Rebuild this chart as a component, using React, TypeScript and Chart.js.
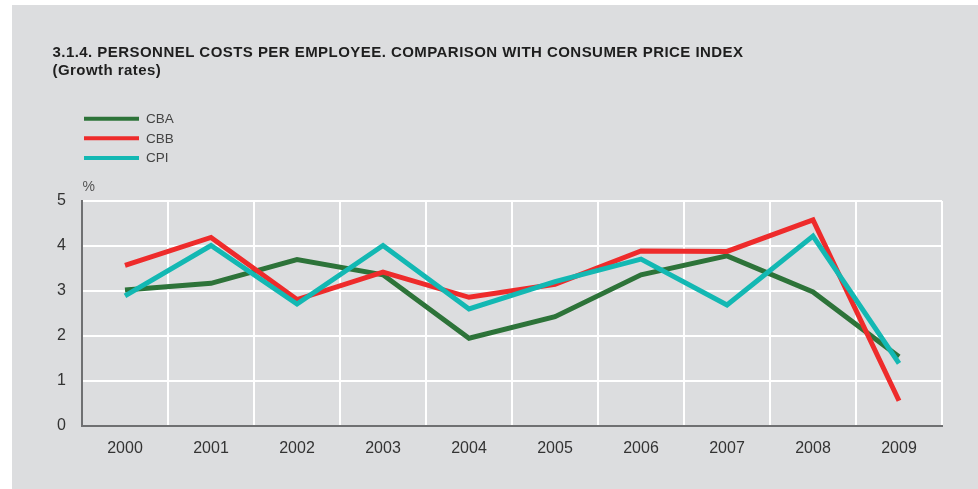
import React, { useEffect, useRef } from "react";
import { Chart, registerables } from "chart.js";

Chart.register(...registerables);

const TITLE_LINE_1 = "3.1.4. PERSONNEL COSTS PER EMPLOYEE. COMPARISON WITH CONSUMER PRICE INDEX";
const TITLE_LINE_2 = "(Growth rates)";
const UNIT_LABEL = "%";

const years = ["2000", "2001", "2002", "2003", "2004", "2005", "2006", "2007", "2008", "2009"];
const cbaValues = [3.02, 3.17, 3.7, 3.36, 1.95, 2.43, 3.36, 3.78, 2.98, 1.54];
const cbbValues = [3.57, 4.19, 2.81, 3.42, 2.86, 3.15, 3.89, 3.88, 4.58, 0.56];
const cpiValues = [2.89, 4.01, 2.71, 4.01, 2.6, 3.21, 3.71, 2.69, 4.22, 1.39];
const seriesNames = ["CBA", "CBB", "CPI"];
const seriesColors = ["#2d7339", "#ee2b2b", "#13b8b3"];
const yTicks = [0, 1, 2, 3, 4, 5];

const FONT = "'Liberation Sans', Arial, Helvetica, sans-serif";

const decorPlugin = {
  id: "decor",
  afterDraw(chart: any) {
    const ctx = chart.ctx as CanvasRenderingContext2D;
    ctx.save();
    // Title
    ctx.fillStyle = "#1e1e1e";
    ctx.font = `bold 15px ${FONT}`;
    (ctx as any).letterSpacing = "0.45px";
    ctx.textAlign = "left";
    ctx.textBaseline = "alphabetic";
    ctx.fillText(TITLE_LINE_1, 40.5, 52);
    ctx.fillText(TITLE_LINE_2, 40.5, 70);
    (ctx as any).letterSpacing = "0px";
    // Legend
    const legendY = [113.7, 133.3, 153];
    chart.data.datasets.forEach((ds: any, i: number) => {
      ctx.strokeStyle = ds.borderColor;
      ctx.lineWidth = 4;
      ctx.beginPath();
      ctx.moveTo(72, legendY[i]);
      ctx.lineTo(127, legendY[i]);
      ctx.stroke();
      ctx.fillStyle = "#444";
      ctx.font = `13.5px ${FONT}`;
      ctx.textBaseline = "middle";
      ctx.fillText(ds.label, 134, legendY[i] + 0.5);
    });
    // Unit
    ctx.fillStyle = "#555";
    ctx.font = `14px ${FONT}`;
    ctx.textBaseline = "alphabetic";
    ctx.fillText(UNIT_LABEL, 70.5, 185.5);
    ctx.restore();
  },
};

export default function App() {
  const canvasRef = useRef<HTMLCanvasElement | null>(null);

  useEffect(() => {
    if (!canvasRef.current) return;
    const valueLists = [cbaValues, cbbValues, cpiValues];
    const chart = new Chart(canvasRef.current, {
      type: "line",
      data: {
        labels: years,
        datasets: valueLists.map((vals, i) => ({
          label: seriesNames[i],
          data: vals,
          borderColor: seriesColors[i],
          backgroundColor: seriesColors[i],
          borderWidth: 5,
          tension: 0,
          pointRadius: 0,
          pointHoverRadius: 0,
          borderJoinStyle: "miter" as const,
          borderCapStyle: "butt" as const,
          fill: false,
          order: 3 - i,
        })),
      },
      options: {
        responsive: false,
        animation: false,
        events: [],
        layout: { padding: { top: 196, right: 36, bottom: 0, left: 0 } },
        plugins: {
          legend: { display: false },
          tooltip: { enabled: false },
          title: { display: false },
        },
        scales: {
          x: {
            type: "category",
            offset: true,
            grid: { offset: true, color: "#ffffff", lineWidth: 2, drawTicks: false },
            border: { display: true, color: "#6f7072", width: 2, z: 1 },
            ticks: { color: "#333", font: { family: FONT, size: 16 }, padding: 13, maxRotation: 0 },
            afterFit: (scale: any) => {
              scale.height = 63;
            },
          },
          y: {
            min: 0,
            max: 5,
            afterBuildTicks: (scale: any) => {
              scale.ticks = yTicks.map((v) => ({ value: v }));
            },
            grid: { color: "#ffffff", lineWidth: 2, drawTicks: false },
            border: { display: true, color: "#6f7072", width: 2, z: 1 },
            ticks: { color: "#333", font: { family: FONT, size: 16 }, padding: 16 },
            afterFit: (scale: any) => {
              scale.width = 70;
            },
          },
        },
      },
      plugins: [decorPlugin],
    });
    return () => chart.destroy();
  }, []);

  return (
    <div style={{ position: "absolute", left: 0, top: 0, width: 978, height: 489, background: "#ffffff" }}>
      <div style={{ position: "absolute", left: 12, top: 5, width: 966, height: 484, background: "#dcdddf" }}>
        <canvas ref={canvasRef} width={966} height={484} style={{ display: "block" }} />
      </div>
    </div>
  );
}
